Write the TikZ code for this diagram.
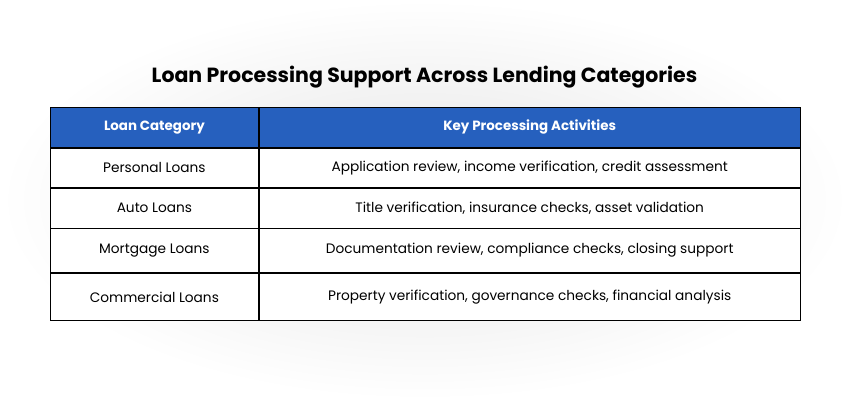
\documentclass[tikz,border=0pt]{standalone}
\usepackage{fontspec}
\setmainfont{Poppins}
\usetikzlibrary{positioning}
\definecolor{headblue}{HTML}{2660BE}
\definecolor{bggray}{HTML}{E4E4E4}
\begin{document}
\begin{tikzpicture}
[   x=1pt,y=-1pt,
    cell/.style={draw=black,line width=0.8pt,fill=#1,minimum height=40pt,inner sep=0pt,font=\fontsize{13.7}{16}\selectfont},
    catcell/.style={cell=#1,minimum width=208pt},
    actcell/.style={cell=#1,minimum width=541pt},
    headtext/.style={text=white,font=\fontsize{13.4}{16}\selectfont\bfseries},
]
    \shade[inner color=bggray,outer color=white] (0,0) rectangle (849,400);
    \useasboundingbox (0,0) rectangle (849,400);
    %
    \node[font=\fontsize{20.5}{24}\selectfont\bfseries] (title) at (424.5,77) {Loan Processing Support Across Lending Categories};
    \node[catcell=headblue,headtext,anchor=north west] (cat-0) at (50,107) {Loan Category};
    \node[actcell=headblue,headtext,anchor=west] (act-0) at (cat-0.east) {Key Processing Activities};

    \foreach \k/\cat/\act/\h [count=\p from 0] in {
        1/Personal Loans/{Application review, income verification, credit assessment}/39.5,
        2/Auto Loans/{Title verification, insurance checks, asset validation}/39.5,
        3/Mortgage Loans/{Documentation review, compliance checks, closing support}/43.5,
        4/Commercial Loans/{Property verification, governance checks, financial analysis}/47.5}
    {
        \node[catcell=white,minimum height=\h pt,anchor=north] (cat-\k) at (cat-\p.south) {\cat};
        \node[actcell=white,minimum height=\h pt,anchor=west] (act-\k) at (cat-\k.east) {\act};
    }
\end{tikzpicture}
\end{document}
